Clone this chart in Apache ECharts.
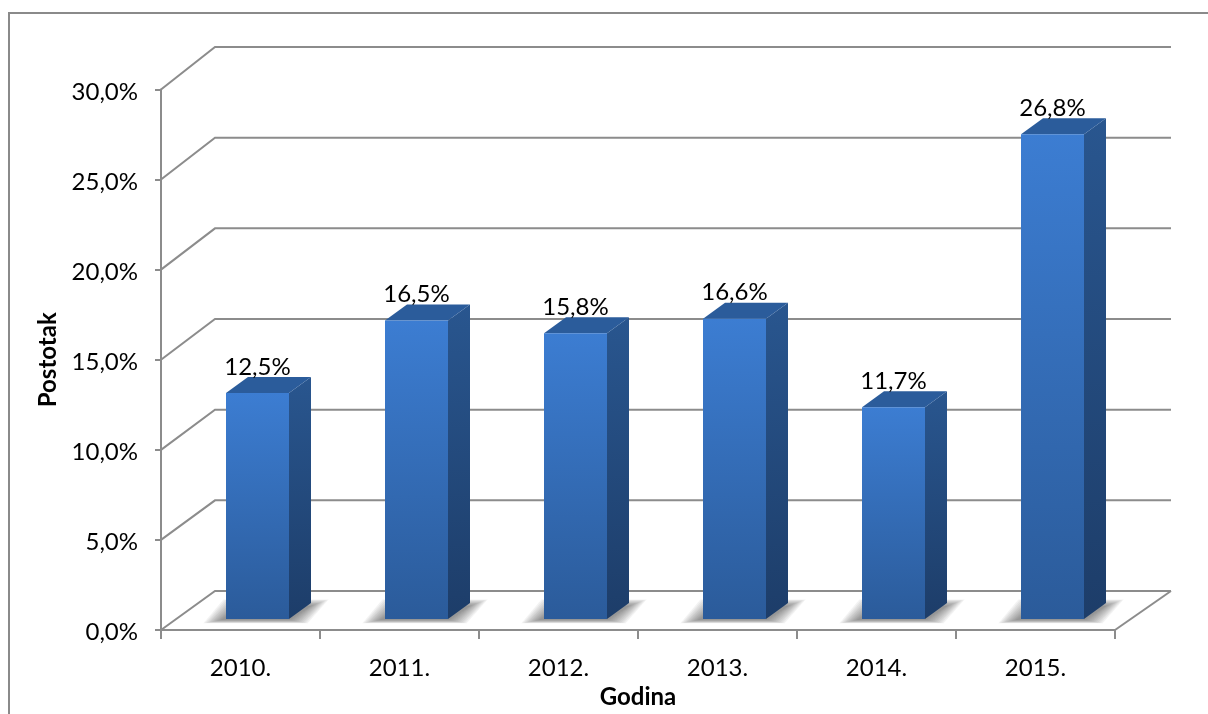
<!DOCTYPE html>
<html><head><meta charset="utf-8">
<style>html,body{margin:0;padding:0;background:#fff;overflow:hidden}#c{width:1208px;height:714px}</style>
<script src="https://cdn.jsdelivr.net/npm/echarts@6/dist/echarts.min.js"></script>
</head><body><div id="c"></div>
<script>
var categories = ['2010.', '2011.', '2012.', '2013.', '2014.', '2015.'];
var values = [12.5, 16.5, 15.8, 16.6, 11.7, 26.8];
var wallTicks = [0, 5, 10, 15, 20, 25, 30];
var FONT = 'Lato';
var GRAY = '#8c8c8c';
var chart = echarts.init(document.getElementById('c'), null, {renderer: 'canvas'});
var comma = function (v) { return v.toFixed(1).replace('.', ',') + '%'; };

function wallItem(params, api) {
  var v = api.value(0);
  var a = api.coord([0, v]);
  var cs = params.coordSys;
  var dy = 39 + 3.5 * v / 30;
  var right = cs.x + cs.width + 56;
  return {type: 'polyline', shape: {points: [[cs.x, a[1]], [cs.x + 54, a[1] - dy], [right, a[1] - dy]]},
    style: {fill: null, stroke: GRAY, lineWidth: 2}, z2: 1};
}
function floorItem(params, api) {
  var cs = params.coordSys;
  var y0 = api.coord([0, 0])[1];
  return {type: 'polyline', shape: {points: [[cs.x + cs.width, y0], [cs.x + cs.width + 56, y0 - 39]]},
    style: {fill: null, stroke: GRAY, lineWidth: 2}, z2: 1};
}
function barItem(params, api) {
  var c = api.coord([api.value(0), api.value(1)]);
  var base = api.coord([api.value(0), 0]);
  var w = 63, dx = 22, dy = 16;
  var x0 = c[0] - w / 2 + 17, x1 = x0 + w;
  var yb = base[1] - 11, yt = yb - (base[1] - c[1]) * 1.004;
  var grad = function (a, b) {
    return {type: 'linear', x: 0, y: 0, x2: 0, y2: 1, colorStops: [{offset: 0, color: a}, {offset: 1, color: b}]};
  };
  var children = [];
  for (var k = 0; k < 12; k++) {
    var e = k * 1.6, eb = k * 0.3, et = k * 0.6;
    children.push({type: 'polygon', shape: {points: [
      [x0 - 5 - e, yb + 1 + eb], [x1 + 1 + e, yb + 1 + eb],
      [x1 + 22 + e, yb - 13 - et], [x0 + 15 - e, yb - 13 - et]]},
      style: {fill: 'rgba(70,70,70,0.065)'}, z2: 2});
  }
  children.push(
    {type: 'polygon', shape: {points: [[x1, yt], [x1 + dx, yt - dy], [x1 + dx, yb - dy], [x1, yb]]},
      style: {fill: grad('#29568f', '#1d3d69')}, z2: 3},
    {type: 'polygon', shape: {points: [[x0, yt], [x0 + dx, yt - dy], [x1 + dx, yt - dy], [x1, yt]]},
      style: {fill: '#2b5c9b'}, z2: 3},
    {type: 'rect', shape: {x: x0, y: yt, width: w, height: yb - yt},
      style: {fill: grad('#3c7dd2', '#2b5b9a')}, z2: 4},
    {type: 'text', style: {x: c[0] + 17, y: yt - 26, text: comma(api.value(1)), align: 'center', verticalAlign: 'middle',
      fill: '#000', font: '24px ' + FONT}, z2: 5}
  );
  return {type: 'group', children: children};
}

chart.setOption({
  animation: false,
  backgroundColor: '#fff',
  grid: {left: 161, right: 93, top: 89.5, bottom: 84, containLabel: false, outerBoundsMode: 'none'},
  graphic: [{type: 'polyline', silent: true, shape: {points: [[9, 714], [9, 13], [1208, 13]]},
    style: {fill: null, stroke: '#8a8a8a', lineWidth: 2}}],
  xAxis: {type: 'category', data: categories, boundaryGap: true,
    axisLine: {lineStyle: {color: GRAY, width: 2}},
    axisTick: {show: true, length: 9, alignWithLabel: false, lineStyle: {color: GRAY, width: 2}},
    axisLabel: {color: '#000', fontFamily: FONT, fontSize: 24, margin: 26},
    name: 'Godina', nameLocation: 'middle', nameGap: 55,
    nameTextStyle: {color: '#000', fontFamily: FONT, fontSize: 24, fontWeight: 'bold'}},
  yAxis: {type: 'value', min: 0, max: 30, interval: 5,
    splitLine: {show: false},
    axisLine: {show: true, lineStyle: {color: GRAY, width: 2}},
    axisTick: {show: true, length: 6, lineStyle: {color: GRAY, width: 2}},
    axisLabel: {color: '#000', fontFamily: FONT, fontSize: 24, margin: 23, verticalAlign: 'top', lineHeight: 5, formatter: comma},
    name: 'Postotak', nameLocation: 'middle', nameGap: 101, nameRotate: 90,
    nameTextStyle: {color: '#000', fontFamily: FONT, fontSize: 24, fontWeight: 'bold'}},
  series: [
    {type: 'custom', renderItem: wallItem, data: wallTicks.map(function (t) { return [t]; }), encode: {y: 0}, silent: true, z: 1},
    {type: 'custom', renderItem: floorItem, data: [[0]], encode: {y: 0}, silent: true, z: 1},
    {type: 'custom', renderItem: barItem, data: values.map(function (v, i) { return [i, v]; }), encode: {x: 0, y: 1}, silent: true, z: 2}
  ]
});
</script></body></html>
